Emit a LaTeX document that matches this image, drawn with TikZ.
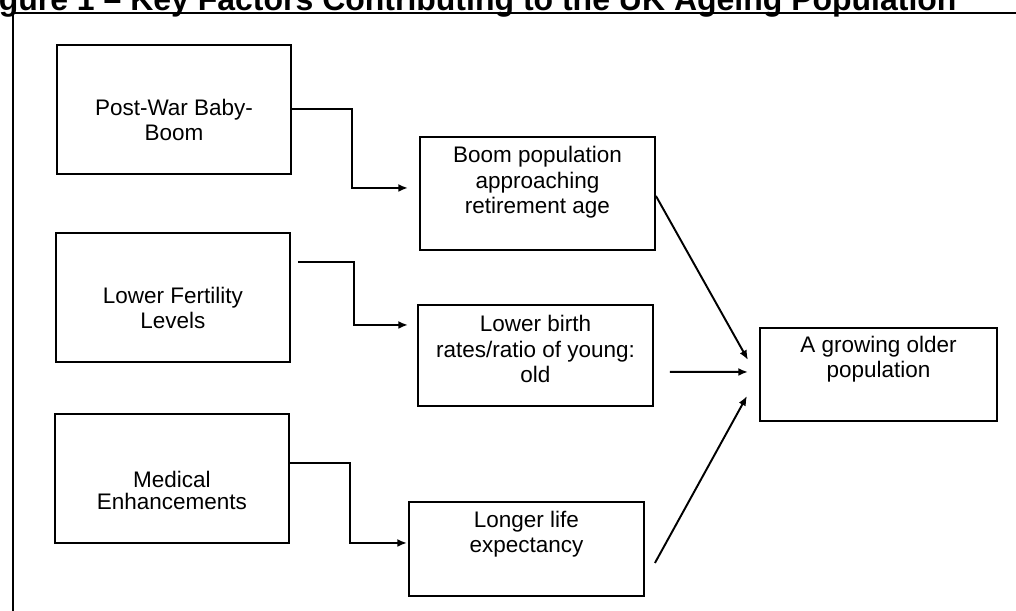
\documentclass[tikz,border=0pt]{standalone}
\usepackage{fontspec}
\setsansfont{Liberation Sans}
\usetikzlibrary{arrows.meta}

\begin{document}
\begin{tikzpicture}[
  font=\sffamily\fontsize{12.8}{14.6}\selectfont,
  box/.style={draw, line width=1.1pt, anchor=north west, inner sep=0pt, align=center, minimum width=4.70cm},
  cause/.style={box, minimum width=4.68cm, text height=1.92cm, text depth=0.66cm},
  effect/.style={box},
  arrow/.style={-{Latex[length=5.5pt,width=4.5pt]}, line width=1.1pt},
  frame/.style={line width=1.2pt},
  title/.style={font=\sffamily\bfseries\fontsize{18.2}{20}\selectfont, anchor=base west, inner sep=0pt}
]
\useasboundingbox[fill=white] (0,0) rectangle (20.32,-12.22);

\node[title] (ttl) at (-0.60,-0.22) {Figure 1 – Key Factors Contributing to the UK Ageing Population};
\draw[frame] (0.26,-12.4) |- (20.5,-0.26);

\node[cause] (boom) at (1.12,-0.88)
  {Post-War Baby-\\Boom};
\node[cause] (fert) at (1.10,-4.64)
  {Lower Fertility\\Levels};
\node[cause] (med) at (1.08,-8.26)
  {Medical\\[-0.06cm]Enhancements};

\node[effect, text height=1.54cm, text depth=0.72cm] (retire) at (8.38,-2.72)
  {Boom population\\approaching\\retirement age};
\node[effect, text height=1.56cm, text depth=0.46cm] (birth) at (8.34,-6.08)
  {Lower birth\\rates/ratio of young:\\old};
\node[effect, text height=1.02cm, text depth=0.86cm] (life) at (8.16,-10.02)
  {Longer life\\expectancy};

\node[box, minimum width=4.74cm, text height=1.00cm, text depth=0.86cm] (older) at (15.18,-6.54)
  {A growing older\\population};

\draw[arrow] (boom.east) -- ++(1.2,0) |- ([xshift=-0.22cm,yshift=0.11cm]retire.west);
\draw[arrow] ([xshift=0.14cm,yshift=0.70cm]fert.east) -- ++(1.12,0) |- ([xshift=-0.18cm,yshift=0.61cm]birth.west);
\draw[arrow] ([yshift=0.30cm]med.east) -- ++(1.2,0) |- ([xshift=-0.02cm,yshift=0.12cm]life.west);

\draw[arrow] ([yshift=-0.05cm]retire.east) -- ([xshift=-0.22cm,yshift=0.29cm]older.west);
\draw[arrow] ([xshift=0.32cm,yshift=-0.33cm]birth.east) -- ([xshift=-0.22cm,yshift=0.05cm]older.west);
\draw[arrow] ([xshift=0.20cm,yshift=-0.28cm]life.east) -- ([xshift=-0.24cm,yshift=-0.43cm]older.west);

\end{tikzpicture}
\end{document}
